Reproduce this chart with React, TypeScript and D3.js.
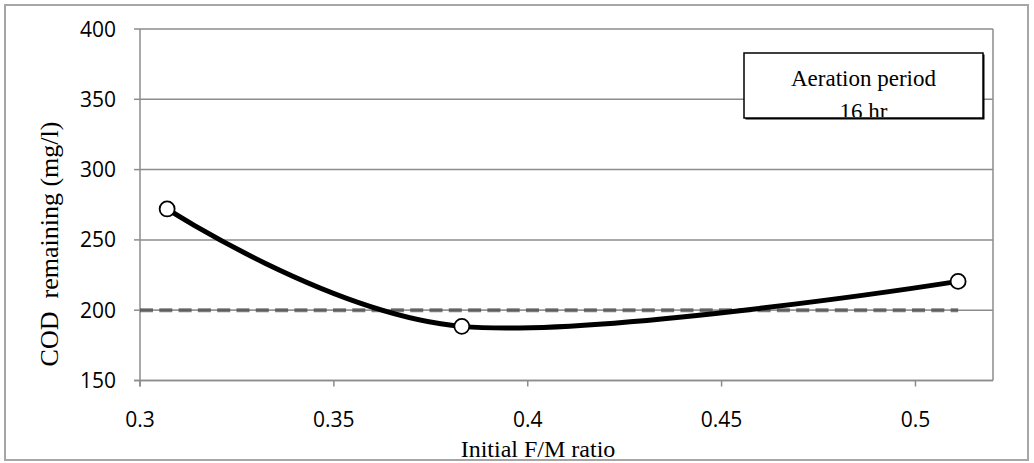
import React from "react";
import * as d3 from "d3";

const fmRatio = [0.307, 0.383, 0.511];
const codRemaining = [272, 188.5, 220.5];
const limitX = [0.3, 0.511];
const limitY = [200, 200];
const xTicks = [0.3, 0.35, 0.4, 0.45, 0.5];
const yTicks = [150, 200, 250, 300, 350, 400];
const xTitle = "Initial F/M ratio";
const yTitle = "COD  remaining (mg/l)";
const noteLines = ["Aeration period", "16 hr"];

const W = 1034;
const H = 463;
const plot = { left: 140, right: 993, top: 29, bottom: 380.5 };

export default function App() {
  const x = d3.scaleLinear().domain([0.3, 0.52]).range([plot.left, plot.right]);
  const y = d3.scaleLinear().domain([150, 400]).range([plot.bottom, plot.top]);

  const curve = d3
    .line<number>()
    .x((_, i) => x(fmRatio[i]))
    .y((d) => y(d))
    .curve(d3.curveCardinal.tension(0));

  const limLine = d3
    .line<number>()
    .x((_, i) => x(limitX[i]))
    .y((d) => y(d));

  const tickFont = "'Open Sans', 'Liberation Sans', sans-serif";
  const serif = "'Liberation Serif', 'Times New Roman', serif";
  const grid = "#8c8c8c";

  const box = { x0: 744, x1: 983, y0: 53, y1: 118 };

  return (
    <svg
      width={W}
      height={H}
      style={{ position: "absolute", left: 0, top: 0, background: "#fff" }}
    >
      <defs>
        <clipPath id="noteClip">
          <rect x={box.x0} y={box.y0} width={box.x1 - box.x0} height={box.y1 - box.y0 - 1} />
        </clipPath>
      </defs>
      <rect x={5} y={5} width={1023} height={455} fill="#fff" stroke="#a6a6a6" strokeWidth={2} />

      {yTicks.map((t) => (
        <line key={"g" + t} x1={plot.left} x2={plot.right} y1={y(t)} y2={y(t)} stroke={grid} strokeWidth={1.5} />
      ))}
      <line x1={plot.right} x2={plot.right} y1={plot.top} y2={plot.bottom} stroke={grid} strokeWidth={1.5} />
      <line x1={plot.left} x2={plot.left} y1={plot.top} y2={plot.bottom + 6} stroke={grid} strokeWidth={1.5} />
      <line x1={plot.left - 6} x2={plot.right} y1={plot.bottom} y2={plot.bottom} stroke={grid} strokeWidth={1.5} />
      {yTicks.map((t) => (
        <g key={"yt" + t}>
          <line x1={plot.left - 6} x2={plot.left} y1={y(t)} y2={y(t)} stroke={grid} strokeWidth={1.5} />
          <text
            x={plot.left - 24}
            y={y(t)}
            dy="0.36em"
            textAnchor="end"
            fontFamily={tickFont}
            fontSize={21}
            fill="#000"
          >
            {t}
          </text>
        </g>
      ))}
      {xTicks.map((t) => (
        <g key={"xt" + t}>
          <line x1={x(t)} x2={x(t)} y1={plot.bottom} y2={plot.bottom + 6} stroke={grid} strokeWidth={1.5} />
          <text
            x={x(t)}
            y={419}
            dy="0.36em"
            textAnchor="middle"
            fontFamily={tickFont}
            fontSize={21}
            fill="#000"
          >
            {t}
          </text>
        </g>
      ))}

      <path d={limLine(limitY) || ""} fill="none" stroke="#9a9a9a" strokeWidth={1.2} />
      <path
        d={limLine(limitY) || ""}
        fill="none"
        stroke="#444"
        strokeWidth={4}
        strokeDasharray="13 6.3"
        strokeOpacity={0.7}
      />

      <path d={curve(codRemaining) || ""} fill="none" stroke="#000" strokeWidth={5} strokeLinejoin="round" />
      {codRemaining.map((v, i) => (
        <circle key={"p" + i} cx={x(fmRatio[i])} cy={y(v)} r={7.5} fill="#fff" stroke="#000" strokeWidth={1.8} />
      ))}

      <rect x={box.x0 + 1.5} y={box.y0 + 1.5} width={box.x1 - box.x0} height={box.y1 - box.y0} fill="#000" />
      <rect x={box.x0} y={box.y0} width={box.x1 - box.x0} height={box.y1 - box.y0} fill="#fff" stroke="#000" strokeWidth={1.5} />
      <g clipPath="url(#noteClip)">
        {noteLines.map((s, i) => (
          <text
            key={s}
            x={(box.x0 + box.x1) / 2}
            y={86 + i * 33}
            textAnchor="middle"
            fontFamily={serif}
            fontSize={23}
            fill="#000"
          >
            {s}
          </text>
        ))}
      </g>

      <text x={538} y={457} textAnchor="middle" fontFamily={serif} fontSize={24} fill="#000">
        {xTitle}
      </text>
      <text
        transform={`translate(58,244) rotate(-90)`}
        textAnchor="middle"
        fontFamily={serif}
        fontSize={26}
        fill="#000"
        style={{ whiteSpace: "pre" }}
      >
        {yTitle}
      </text>
    </svg>
  );
}
